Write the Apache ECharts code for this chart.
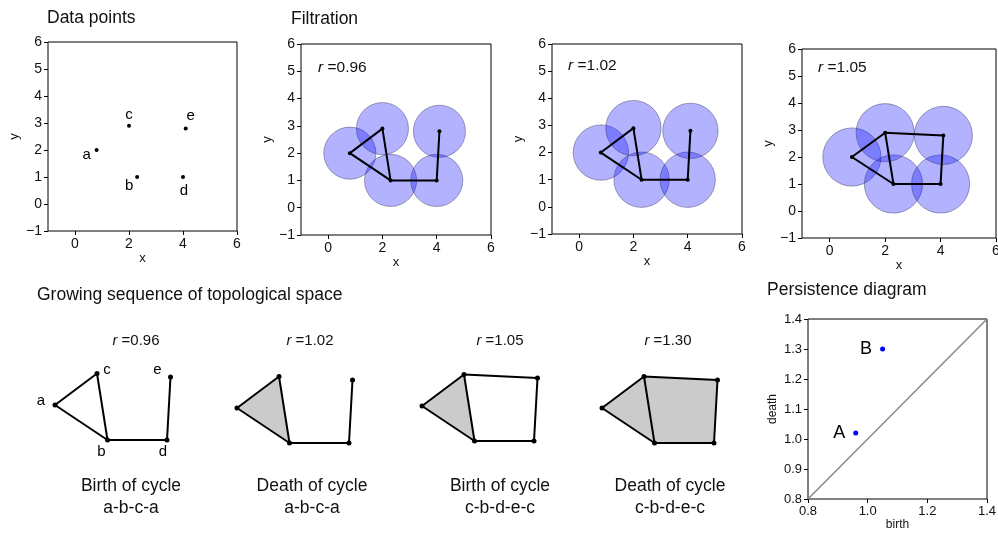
<!DOCTYPE html>
<html>
<head>
<meta charset="utf-8">
<script src="https://cdn.jsdelivr.net/npm/echarts@6/dist/echarts.min.js"></script>
<style>
  html, body { margin: 0; padding: 0; background: #fff; }
  #chart { width: 998px; height: 533px; }
</style>
</head>
<body>
<div id="chart"></div>
<script>
// point cloud
const pointNames = ["a", "b", "c", "d", "e"];
const pointX = [0.8, 2.3, 2.0, 4.0, 4.1];
const pointY = [2.0, 1.0, 2.9, 1.0, 2.8];

// filtration steps (top row shows the first three, bottom row all four)
const radii = [0.96, 1.02, 1.05, 1.30];
const stepEdges = [
  [["a", "b"], ["a", "c"], ["b", "c"], ["b", "d"], ["d", "e"]],
  [["a", "b"], ["a", "c"], ["b", "c"], ["b", "d"], ["d", "e"]],
  [["a", "b"], ["a", "c"], ["b", "c"], ["b", "d"], ["d", "e"], ["c", "e"]],
  [["a", "b"], ["a", "c"], ["b", "c"], ["b", "d"], ["d", "e"], ["c", "e"]],
];
const stepFaces = [
  [],
  [["a", "b", "c"]],
  [["a", "b", "c"]],
  [["a", "b", "c"], ["c", "b", "d", "e"]],
];
const stepCaptions = [
  ["Birth of cycle", "a-b-c-a"],
  ["Death of cycle", "a-b-c-a"],
  ["Birth of cycle", "c-b-d-e-c"],
  ["Death of cycle", "c-b-d-e-c"],
];

const topXTicks = [0, 2, 4, 6];
const topYTicks = [-1, 0, 1, 2, 3, 4, 5, 6];

// persistence diagram
const pdNames = ["A", "B"];
const pdBirth = [0.96, 1.05];
const pdDeath = [1.02, 1.30];
const pdDiagonal = [0.8, 1.4];
const pdXTicks = [0.8, 1.0, 1.2, 1.4];
const pdYTicks = [0.8, 0.9, 1.0, 1.1, 1.2, 1.3, 1.4];

const FONT = "Liberation Sans, Arial, sans-serif";
const INK = "#111";

const idx = (n) => pointNames.indexOf(n);
const minus = (v) => String(v).replace("-", "\u2212");

// label offsets (px) for the letters
const topLabelOffsets = { a: [-10, 5], b: [-8, 9], c: [0, -11], d: [1, 14], e: [5, -13] };
const graphLabelOffsets = { a: [-14, -4], b: [-6, 12], c: [10, -4], d: [-4, 12], e: [-13, -7] };

// ---- grids ----
const topGrids = [
  { left: 48, top: 42, width: 189, height: 189 },
  { left: 301, top: 44, width: 190, height: 191 },
  { left: 552, top: 44, width: 190, height: 190 },
  { left: 802, top: 49, width: 194, height: 189 },
];
const graphGrids = [
  { left: 27, top: 335, width: 175, height: 140 },
  { left: 209, top: 338, width: 175, height: 140 },
  { left: 394, top: 336, width: 175, height: 140 },
  { left: 574, top: 338, width: 175, height: 140 },
];
const pdGrid = { left: 808, top: 319, width: 179, height: 180 };

const grid = [];
const xAxis = [];
const yAxis = [];
const series = [];

function boxAxis(min, max, ticks, fmt, fontSize, name, nameSize, nameGap) {
  return {
    type: "value", gridIndex: grid.length - 1, min, max,
    name, nameLocation: "middle", nameGap,
    nameTextStyle: { fontFamily: FONT, fontSize: nameSize, color: INK },
    axisLine: { show: false, onZero: false },
    axisTick: { show: true, length: 4, customValues: ticks, lineStyle: { color: "#000" } },
    axisLabel: { customValues: ticks, formatter: fmt, margin: 6, fontFamily: FONT, fontSize, color: INK },
    splitLine: { show: false },
  };
}

function edgeSeries(k, edges) {
  return {
    type: "custom", xAxisIndex: k, yAxisIndex: k, silent: true, z: 3,
    data: edges.map(([p, q]) => [pointX[idx(p)], pointY[idx(p)], pointX[idx(q)], pointY[idx(q)]]),
    encode: { x: [0, 2], y: [1, 3] },
    renderItem: (params, api) => {
      const p1 = api.coord([api.value(0), api.value(1)]);
      const p2 = api.coord([api.value(2), api.value(3)]);
      return {
        type: "line",
        shape: { x1: p1[0], y1: p1[1], x2: p2[0], y2: p2[1] },
        style: { stroke: "#000", lineWidth: 2, lineCap: "round" },
      };
    },
  };
}

function dotSeries(k, size, offsets) {
  return {
    type: "scatter", xAxisIndex: k, yAxisIndex: k, silent: true, z: 4,
    symbolSize: size,
    itemStyle: { color: "#000", opacity: 1 },
    data: pointNames.map((n, i) => ({
      name: n,
      value: [pointX[i], pointY[i]],
      label: offsets ? { show: true, offset: offsets[n] } : { show: false },
    })),
    label: { position: "inside", formatter: "{b}", fontFamily: FONT, fontSize: 15, color: "#000" },
  };
}

// top row
topGrids.forEach((g, k) => {
  grid.push({ ...g, outerBoundsMode: "none", show: true, borderColor: "#000", borderWidth: 1, backgroundColor: "transparent" });
  xAxis.push(boxAxis(-1, 6, topXTicks, minus, 14, "x", 13, 21));
  yAxis.push(boxAxis(-1, 6, topYTicks, minus, 14, "y", 13, 27));
  if (k === 0) {
    series.push(dotSeries(k, 4, topLabelOffsets));
    return;
  }
  const r = radii[k - 1];
  series.push({
    type: "custom", xAxisIndex: k, yAxisIndex: k, silent: true, z: 2,
    data: pointX.map((x, i) => [x, pointY[i], r]),
    renderItem: (params, api) => {
      const c = api.coord([api.value(0), api.value(1)]);
      const s = api.size([api.value(2), api.value(2)]);
      return {
        type: "circle",
        shape: { cx: c[0], cy: c[1], r: s[0] },
        style: { fill: "rgba(0,0,255,0.3)", stroke: "rgba(40,40,80,0.4)", lineWidth: 1 },
      };
    },
  });
  series.push(edgeSeries(k, stepEdges[k - 1]));
  series.push(dotSeries(k, 4, null));
});

// bottom row: simplicial complexes
graphGrids.forEach((g, j) => {
  const k = grid.length;
  grid.push({ ...g, outerBoundsMode: "none", show: false });
  xAxis.push({ type: "value", gridIndex: k, min: 0, max: 5, show: false });
  yAxis.push({ type: "value", gridIndex: k, min: 0, max: 4, show: false });
  const faces = stepFaces[j];
  series.push({
    type: "custom", xAxisIndex: k, yAxisIndex: k, silent: true, z: 2,
    data: faces.map((f) => [pointX[idx(f[0])], pointY[idx(f[0])]]),
    renderItem: (params, api) => {
      const f = faces[params.dataIndex];
      return {
        type: "polygon",
        shape: { points: f.map((n) => api.coord([pointX[idx(n)], pointY[idx(n)]])) },
        style: { fill: "#cbcbcb" },
      };
    },
  });
  series.push(edgeSeries(k, stepEdges[j]));
  series.push(dotSeries(k, 5, j === 0 ? graphLabelOffsets : null));
});

// persistence diagram
{
  const k = grid.length;
  grid.push({ ...pdGrid, outerBoundsMode: "none", show: true, borderColor: "#000", borderWidth: 1, backgroundColor: "transparent" });
  xAxis.push(boxAxis(0.8, 1.4, pdXTicks, (v) => v.toFixed(1), 13, "birth", 12, 19));
  yAxis.push(boxAxis(0.8, 1.4, pdYTicks, (v) => v.toFixed(1), 13, "death", 12, 29));
  series.push({
    type: "line", xAxisIndex: k, yAxisIndex: k, silent: true, showSymbol: false,
    lineStyle: { color: "#888", width: 1.5 },
    data: pdDiagonal.map((v) => [v, v]),
  });
  series.push({
    type: "scatter", xAxisIndex: k, yAxisIndex: k, silent: true, symbolSize: 5,
    itemStyle: { color: "#0000ff", opacity: 1 },
    data: pdNames.map((n, i) => ({ name: n, value: [pdBirth[i], pdDeath[i]] })),
    label: {
      show: true, position: "left", distance: 8, formatter: "{b}",
      fontFamily: FONT, fontSize: 18, color: "#000",
    },
  });
}

// ---- free text ----
function txt(x, y, text, size, align) {
  return {
    type: "text", x, y, silent: true,
    style: { text, fontFamily: FONT, fontSize: size, fill: INK, align: align || "left", verticalAlign: "middle" },
  };
}
function rText(x, y, r, size, align) {
  return {
    type: "text", x, y, silent: true,
    style: {
      text: "{i|r}{n| =" + r.toFixed(2) + "}",
      align: align || "left", verticalAlign: "middle",
      rich: {
        i: { fontFamily: FONT, fontSize: size, fontStyle: "italic", fill: INK },
        n: { fontFamily: FONT, fontSize: size, fill: INK },
      },
    },
  };
}

const graphic = [
  txt(47, 18, "Data points", 17.5),
  txt(291, 19, "Filtration", 17.5),
  txt(37, 295, "Growing sequence of topological space", 17.5),
  txt(767, 290, "Persistence diagram", 17.5),
];
[318, 568, 818].forEach((x, i) => graphic.push(rText(x, [68, 66, 68][i], radii[i], 15.5)));
[136, 310, 500, 668].forEach((x, i) => graphic.push(rText(x, 341, radii[i], 15, "center")));
[131, 312, 500, 670].forEach((x, i) => {
  graphic.push(txt(x, 486, stepCaptions[i][0], 17.5, "center"));
  graphic.push(txt(x, 508, stepCaptions[i][1], 17.5, "center"));
});

const chart = echarts.init(document.getElementById("chart"), null, { renderer: "canvas" });
chart.setOption({
  animation: false,
  backgroundColor: "#fff",
  grid, xAxis, yAxis, series, graphic,
});
</script>
</body>
</html>
